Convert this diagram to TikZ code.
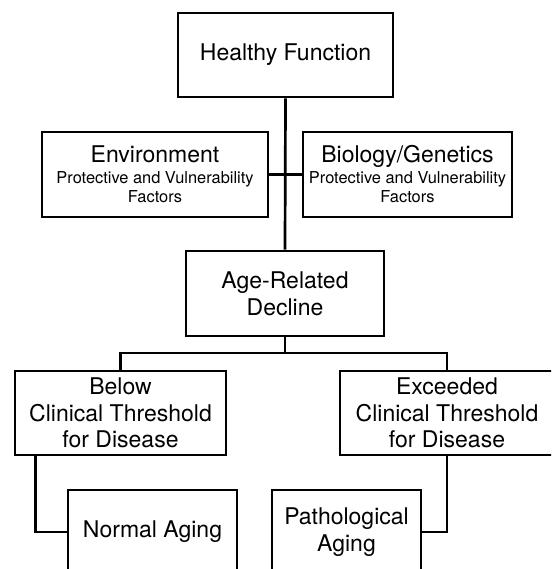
\documentclass[tikz,border=0pt]{standalone}
\usepackage{fontspec}
\setmainfont{TeX Gyre Heros}
\usepackage{tikz}

\newcommand{\bigtxt}{\fontsize{23}{26.7}\selectfont}
\newcommand{\smalltxt}{\fontsize{16.4}{19}\selectfont}

\tikzset{
  stage/.style={draw, line width=2.7pt, inner sep=0pt, align=center,
    minimum height=84pt, font=\bigtxt},
  factor/.style={stage, minimum height=85pt, font=\smalltxt},
  link/.style={line width=2.7pt}
}

\begin{document}
\begin{tikzpicture}[x=1pt,y=-1pt]
\clip (0,0) rectangle (551,569);
\fill[white] (0,0) rectangle (551,569);

% top of the tree
\node[stage, minimum width=215pt] (hf) at (285.5,55) {Healthy Function};

% factors acting on the path
\node[factor, minimum width=226pt] (env) at (155,174.5)
  {{\bigtxt Environment}\\[2pt]Protective and Vulnerability\\Factors};
\node[factor, minimum width=209pt] (bio) at (407.5,174.5)
  {{\bigtxt Biology/Genetics}\\[2pt]Protective and Vulnerability\\Factors};

\node[stage, minimum width=198pt, minimum height=85pt] (ard) at (285,293.5)
  {Age-Related\\Decline};

% the two outcomes
\node[stage, minimum width=211pt] (below) at (120.5,413)
  {Below\\Clinical Threshold\\for Disease};
\node[stage, minimum width=214pt] (exc) at (447,413)
  {Exceeded\\Clinical Threshold\\for Disease};

\node[stage, minimum width=169pt] (normal) at (152.5,532) {Normal Aging};
\node[stage, minimum width=149pt] (path) at (346.5,532) {Pathological\\Aging};

\coordinate (split) at (285,353);

\draw[link] (hf.south) -- (ard.north);
\draw[link] (env.east) -- (bio.west);
\draw[link] (ard.south) -- (split);
\draw[link] (below.north) |- (split) -| (exc.north);
\draw[link] ([xshift=22pt]below.south west) |- (normal.west);
\draw[link] (exc.south) |- (path.east);

\end{tikzpicture}
\end{document}
